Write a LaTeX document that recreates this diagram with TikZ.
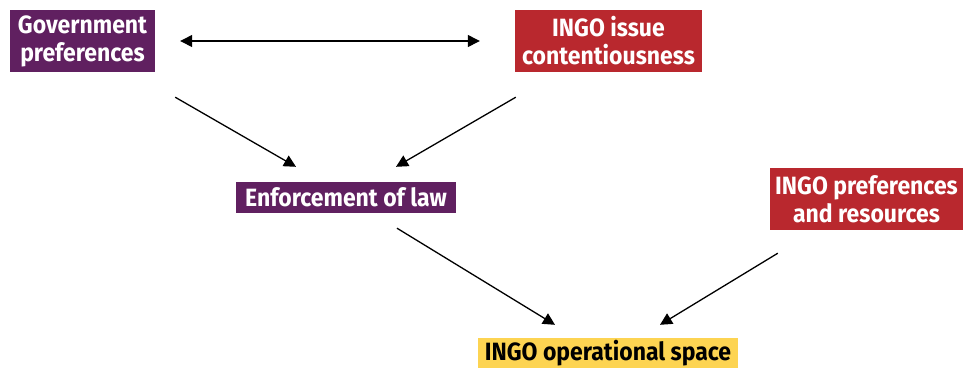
\documentclass[tikz,border=0pt]{standalone}
\usepackage{fontspec}
\usepackage{tikz}
\usetikzlibrary{arrows.meta}
\newfontfamily\boxfont[FakeStretch=0.92]{Fira Sans}
\definecolor{govpurple}{RGB}{96, 32, 96}
\definecolor{ingored}{RGB}{185, 40, 46}
\definecolor{spaceyellow}{RGB}{253, 212, 82}
\tikzstyle{box}=[inner sep=0pt,align=center,minimum height=31pt,font=\boxfont\bfseries\fontsize{25}{28}\selectfont]
\tikzstyle{govbox}=[box,fill=govpurple,text=white]
\tikzstyle{ingobox}=[box,fill=ingored,text=white]
\tikzstyle{spacebox}=[box,fill=spaceyellow,text=black]
\tikzstyle{link}=[black,line width=1.3pt,-{Triangle[width=12pt,length=12pt]}]

\begin{document}
\begin{tikzpicture}[x=1pt,y=-1pt]
\useasboundingbox (0,0) rectangle (963,368);

\node[govbox, minimum width=145pt, minimum height=62pt] (gov) at (82.5,41) {Government\\preferences};
\node[ingobox, minimum width=187pt, minimum height=62pt] (issue) at (608.5,41) {INGO issue\\contentiousness};
\node[govbox, minimum width=220pt] (enf) at (346,197.5) {Enforcement of law};
\node[ingobox, minimum width=193pt, minimum height=62pt] (res) at (866.5,199) {INGO preferences\\and resources};
\node[spacebox, minimum width=260pt, minimum height=30pt] (space) at (608,353) {INGO operational space};

\draw[link,{Triangle[width=12pt,length=12pt]}-{Triangle[width=12pt,length=12pt]}] ([xshift=25pt]gov.east) -- ([xshift=-35pt]issue.west);

\draw[link] ([xshift=20pt,yshift=-25pt]gov.south east) -- ([xshift=-50pt,yshift=15pt]enf.north);
\draw[link] ([xshift=1pt,yshift=-25pt]issue.south west) -- ([xshift=50pt,yshift=15pt]enf.north);

\draw[link] ([xshift=51pt,yshift=-15pt]enf.south) -- ([xshift=-53pt,yshift=13pt]space.north);
\draw[link] ([xshift=8pt,yshift=-23pt]res.south west) -- ([xshift=52pt,yshift=13pt]space.north);

\end{tikzpicture}
\end{document}
